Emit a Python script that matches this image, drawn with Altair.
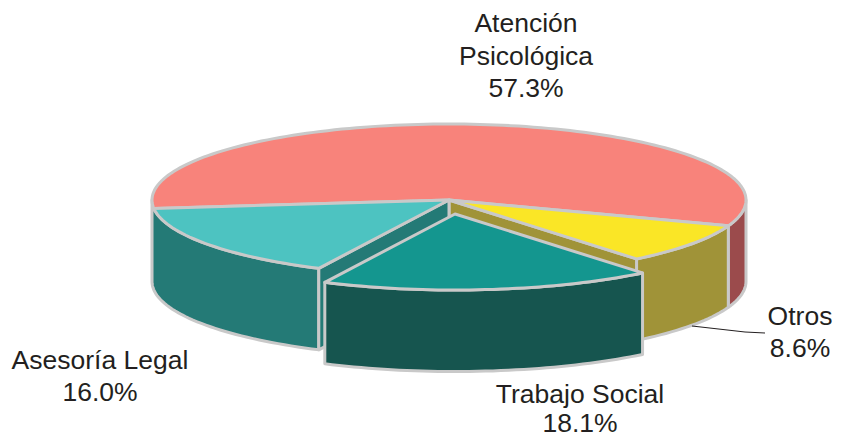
import math
import altair as alt
import pandas as pd

# Data
categories = ["Atención Psicológica", "Otros", "Trabajo Social", "Asesoría Legal"]
shares = [57.3, 8.6, 18.1, 16.0]

# Layout of the pie on the page (pixels)
CX, CY, RX, RY, DEPTH = 449.0, 200.0, 297.0, 76.0, 81.5
SHIFT = (6.0, 14.0)          # explode offset of Trabajo Social
START = 173.6                # angle where the first slice starts, clockwise from east
EDGE = "#c9c9c9"
SW = 3
W, H = 825, 425


def pt(a, dx=0.0, dy=0.0):
    r = math.radians(a)
    return (CX + RX * math.cos(r) + dx, CY + RY * math.sin(r) + dy)


def arc(a0, a1, dx=0.0, dy=0.0):
    n = max(2, int(abs(a1 - a0) / 1.5) + 1)
    return [pt(a0 + (a1 - a0) * i / (n - 1), dx, dy) for i in range(n)]


# slice angle ranges derived from the shares
angles = {}
a = START
for c, s in zip(categories, shares):
    angles[c] = (a, a + s * 3.6)
    a += s * 3.6

x_scale = alt.Scale(domain=[8, 8 + W], range=[0, W], nice=False, zero=False)
y_scale = alt.Scale(domain=[8 + H, 8], range=[H, 0], nice=False, zero=False)


def poly(points, fill, stroke=EDGE, sw=SW):
    df = pd.DataFrame({"x": [p[0] for p in points], "y": [p[1] for p in points],
                       "i": list(range(len(points)))})
    return alt.Chart(df).mark_line(
        fill=fill, stroke=stroke, strokeWidth=sw, interpolate="linear-closed",
        strokeJoin="round",
    ).encode(
        x=alt.X("x:Q", scale=x_scale, axis=None),
        y=alt.Y("y:Q", scale=y_scale, axis=None),
        order="i:Q",
    )


def wall(a0, a1, fill, dx=0.0, dy=0.0):
    top_edge = arc(a0, a1, dx, dy)
    bottom = arc(a1, a0, dx, dy + DEPTH)
    return poly(top_edge + bottom, fill)


def inner(a, fill):
    p = pt(a)
    return poly([(CX, CY), p, (p[0], p[1] + DEPTH), (CX, CY + DEPTH)], fill)


def top(a0, a1, fill, dx=0.0, dy=0.0):
    return poly([(CX + dx, CY + dy)] + arc(a0, a1, dx, dy), fill)


at0, at1 = angles["Atención Psicológica"]
ot0, ot1 = [v - 360 for v in angles["Otros"]]
tr0, tr1 = [v - 360 for v in angles["Trabajo Social"]]
as0, as1 = [v - 360 for v in angles["Asesoría Legal"]]
at_end = at1 - 360

layers = [
    wall(0, at_end, "#9b4b4c"),
    wall(ot0, ot1, "#a09338"),
    inner(ot1, "#a09338"),
    wall(as0, 180, "#247a76"),
    inner(as0, "#247a76"),
    top(at0, at1, "#f8837b"),
    top(ot0, ot1, "#fae626"),
    top(as0, as1, "#4dc3c1"),
    wall(tr0, tr1, "#16554f", *SHIFT),
    top(tr0, tr1, "#14968f", *SHIFT),
]

# leader line of the "Otros" label
leader = pd.DataFrame({"x": [692, 745, 765], "y": [326, 332, 333], "i": [0, 1, 2]})
layers.append(
    alt.Chart(leader).mark_line(color="#231f20", strokeWidth=1).encode(
        x=alt.X("x:Q", scale=x_scale, axis=None),
        y=alt.Y("y:Q", scale=y_scale, axis=None),
        order="i:Q",
    )
)

label_text = ["Atención", "Psicológica", "57.3%", "Otros", "8.6%",
              "Trabajo Social", "18.1%", "Asesoría Legal", "16.0%"]
label_x = [526, 526, 526, 800, 800, 580, 580, 100, 100]
label_y = [24, 57, 89, 317, 349, 395, 424, 361, 393]
labels = pd.DataFrame({"t": label_text, "x": label_x, "y": label_y})
layers.append(
    alt.Chart(labels).mark_text(
        font="Liberation Sans", fontSize=26.5, color="#231f20", align="center", baseline="middle"
    ).encode(
        x=alt.X("x:Q", scale=x_scale, axis=None),
        y=alt.Y("y:Q", scale=y_scale, axis=None),
        text="t:N",
    )
)

chart = alt.layer(*layers).properties(
    width=W, height=H, padding=0, background="white"
).configure_view(stroke=None)

chart.save("out.html", embed_options={"renderer": "svg", "actions": False})
